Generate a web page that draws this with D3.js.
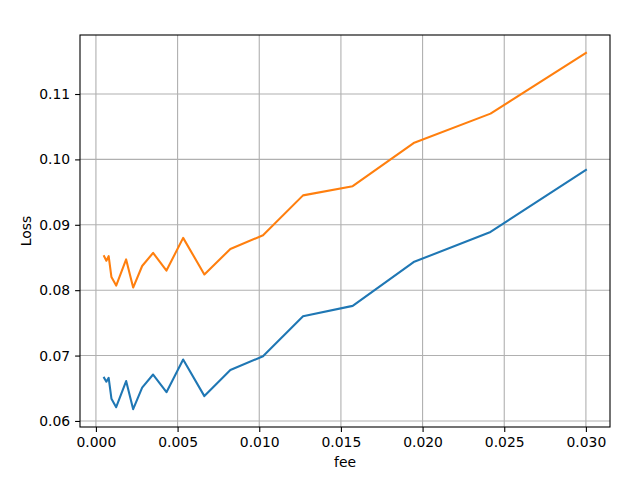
<!DOCTYPE html>
<html>
<head>
<meta charset="utf-8">
<script src="https://cdn.jsdelivr.net/npm/d3@7"></script>
<style>
body{margin:0;background:#fff;}
text{font-family:"DejaVu Sans",sans-serif;fill:#000;}
</style>
</head>
<body>
<div id="chart"></div>
<script>
// values
var fee = [0.0005,0.00064,0.00078,0.00095,0.00124,0.00185,0.00228,0.00283,0.0035,0.00432,0.00534,0.00664,0.00823,0.01023,0.01268,0.01572,0.01945,0.02416,0.03];
var lossA = [0.0666,0.0660,0.0666,0.0634,0.0621,0.0661,0.0618,0.0651,0.0671,0.0644,0.0694,0.0638,0.0678,0.0699,0.0760,0.0776,0.0843,0.0889,0.0984];
var lossB = [0.0852,0.0845,0.0852,0.0820,0.0807,0.0847,0.0804,0.0837,0.0857,0.0830,0.0880,0.0824,0.0863,0.0884,0.0945,0.0959,0.1025,0.1070,0.1163];
var xTicks = [0,0.005,0.010,0.015,0.020,0.025,0.030];
var yTicks = [0.06,0.07,0.08,0.09,0.10,0.11];
var colors = ["#1f77b4","#ff7f0e"];

var W=640, H=480;
var pLeft=80, pRight=610, pTop=35, pBottom=427;

var svg = d3.select("#chart").append("svg").attr("width",W).attr("height",H);

//domain with 5% margins like matplotlib
var xmin=d3.min(fee), xmax=d3.max(fee);
var xpad=(xmax-xmin)*0.05;
var allY=lossA.concat(lossB);
var ymin=d3.min(allY), ymax=d3.max(allY);
var ypad=(ymax-ymin)*0.05;

var x = d3.scaleLinear().domain([xmin-xpad,xmax+xpad]).range([pLeft,pRight]);
var y = d3.scaleLinear().domain([ymin-ypad,ymax+ypad]).range([pBottom,pTop]);

//grid
svg.append("g").selectAll("line").data(xTicks).enter().append("line")
	.attr("x1",function(d){return x(d);}).attr("x2",function(d){return x(d);})
	.attr("y1",pTop).attr("y2",pBottom)
	.attr("stroke","#b0b0b0").attr("stroke-width",1.1);
svg.append("g").selectAll("line").data(yTicks).enter().append("line")
	.attr("y1",function(d){return y(d);}).attr("y2",function(d){return y(d);})
	.attr("x1",pLeft).attr("x2",pRight)
	.attr("stroke","#b0b0b0").attr("stroke-width",1.1);

//lines
var line = d3.line().x(function(d,i){return x(fee[i]);}).y(function(d){return y(d);});
[lossA,lossB].forEach(function(s,k){
	svg.append("path").datum(s).attr("d",line)
		.attr("fill","none").attr("stroke",colors[k]).attr("stroke-width",2.08)
		.attr("stroke-linejoin","round").attr("stroke-linecap","square");
});

//axes
var xAxis = d3.axisBottom(x).tickValues(xTicks).tickFormat(d3.format(".3f")).tickSize(4.9).tickPadding(4.9);
var yAxis = d3.axisLeft(y).tickValues(yTicks).tickFormat(d3.format(".2f")).tickSize(4.9).tickPadding(4.9);
var gx = svg.append("g").attr("transform","translate(0,"+pBottom+")").call(xAxis);
var gy = svg.append("g").attr("transform","translate("+pLeft+",0)").call(yAxis);
[gx,gy].forEach(function(g){
	g.select(".domain").remove();
	g.selectAll("line").attr("stroke","#000").attr("stroke-width",1.1);
	g.selectAll("text").style("font-size","13.9px").attr("font-family","DejaVu Sans");
});

//frame
svg.append("rect").attr("x",pLeft).attr("y",pTop).attr("width",pRight-pLeft).attr("height",pBottom-pTop)
	.attr("fill","none").attr("stroke","#000").attr("stroke-width",1.1);

//labels
svg.append("text").attr("x",(pLeft+pRight)/2).attr("y",467).attr("text-anchor","middle")
	.style("font-size","13.9px").text("fee");
svg.append("text").attr("transform","translate(31,"+((pTop+pBottom)/2)+") rotate(-90)")
	.attr("text-anchor","middle").style("font-size","13.9px").text("Loss");
</script>
</body>
</html>
